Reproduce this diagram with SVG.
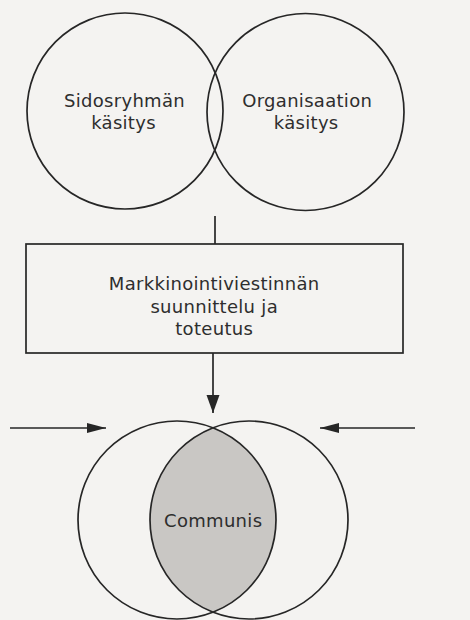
<svg xmlns="http://www.w3.org/2000/svg" width="470" height="620" viewBox="0 0 470 620">
  <style>
    .ln { fill: none; stroke: #262626; stroke-width: 1.7; }
    .lbl { font-family: "DejaVu Sans", "Open Sans", sans-serif; font-size: 18px; fill: #2e2e2e; text-anchor: middle; letter-spacing: 0.3px; }
  </style>
  <defs>
    <marker id="ahDown" markerUnits="userSpaceOnUse" markerWidth="18" markerHeight="14" refX="18" refY="7" orient="auto">
      <path d="M0,0.5 L18,7 L0,13.5 Z" fill="#262626"/>
    </marker>
    <marker id="ahSide" markerUnits="userSpaceOnUse" markerWidth="19" markerHeight="11" refX="19" refY="5.5" orient="auto">
      <path d="M0,0.5 L19,5.5 L0,10.5 Z" fill="#262626"/>
    </marker>
  </defs>
  <rect x="0" y="0" width="470" height="620" fill="#f4f3f1"/>

  <g id="sidosryhma">
    <circle class="ln" cx="125" cy="111" r="98"/>
    <text class="lbl" x="124.5" y="107" letter-spacing="0.4">Sidosryhmän</text>
    <text class="lbl" x="123.5" y="129">käsitys</text>
  </g>

  <g id="organisaatio">
    <circle class="ln" cx="305.5" cy="112" r="98.5"/>
    <text class="lbl" x="307.2" y="107">Organisaation</text>
    <text class="lbl" x="306.2" y="129">käsitys</text>
  </g>

  <g id="markkinointiviestinta">
    <rect class="ln" x="26" y="244" width="377" height="109"/>
    <text class="lbl" x="214.2" y="290">Markkinointiviestinnän</text>
    <text class="lbl" x="214.2" y="312.5">suunnittelu ja</text>
    <text class="lbl" x="214.2" y="334.5">toteutus</text>
  </g>

  <g id="communis">
    <path d="M213,427.8 A99,99 0 0 1 213,612.2 A99,99 0 0 1 213,427.8 Z" fill="#c9c7c4"/>
    <circle class="ln" cx="177" cy="520" r="99"/>
    <circle class="ln" cx="249" cy="520" r="99"/>
    <text class="lbl" x="213.2" y="527" letter-spacing="0.5">Communis</text>
  </g>

  <g id="connectors">
    <line class="ln" x1="215" y1="216" x2="215" y2="244"/>
    <line class="ln" x1="213" y1="353" x2="213" y2="413" marker-end="url(#ahDown)"/>
    <line class="ln" x1="10" y1="428" x2="106" y2="428" marker-end="url(#ahSide)"/>
    <line class="ln" x1="415" y1="428" x2="320" y2="428" marker-end="url(#ahSide)"/>
  </g>
</svg>
